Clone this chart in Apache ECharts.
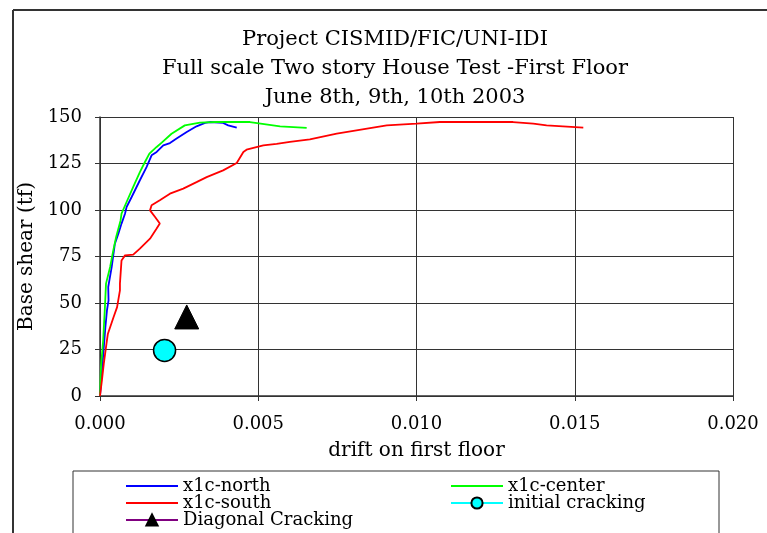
<!DOCTYPE html>
<html>
<head>
<meta charset="utf-8">
<script src="https://cdn.jsdelivr.net/npm/echarts@6/dist/echarts.min.js"></script>
<style>
  html, body { margin: 0; padding: 0; background: #fff; }
  #main { width: 767px; height: 533px; }
</style>
</head>
<body>
<div id="main"></div>
<script>
// base shear vs drift, first floor
var chart = echarts.init(document.getElementById('main'));

var titleLines = ['Project CISMID/FIC/UNI-IDI', 'Full scale Two story House Test -First Floor', 'June 8th, 9th, 10th 2003'];

// [drift, base shear]
var north = [[0, 0], [0.00017, 37], [0.00022, 46], [0.00027, 51.4], [0.00026, 58.6], [0.00037, 69.4],
  [0.00047, 81.9], [0.00058, 87.3], [0.00068, 92.7], [0.00079, 98], [0.00084, 101.6], [0.0010, 107],
  [0.00126, 116], [0.00147, 123.1], [0.00163, 129.4], [0.00179, 131.2], [0.0020, 134.8], [0.00221, 136],
  [0.00242, 138.4], [0.00274, 141.9], [0.00305, 145], [0.00332, 146.8], [0.00347, 147.3], [0.00389, 146.8],
  [0.00405, 145.5], [0.00432, 144.3]];

var center = [[0, 0], [0.00003, 15.6], [0.0001, 30], [0.00015, 46], [0.00019, 60.4], [0.00032, 69.4],
  [0.00042, 78.3], [0.00051, 85.5], [0.00065, 94.4], [0.00068, 98], [0.00084, 104.3], [0.00105, 112.4],
  [0.00126, 120.4], [0.00142, 125.8], [0.00156, 130.3], [0.00179, 133.9], [0.00195, 136.2], [0.00226, 141],
  [0.00268, 145.5], [0.00316, 147], [0.00368, 147.3], [0.00474, 147.3], [0.00569, 145], [0.00653, 144.1]];

var south = [[0, 0], [0.00006, 8.4], [0.00012, 17.4], [0.00022, 30], [0.00025, 33.5], [0.00043, 42.5],
  [0.00054, 47.8], [0.00063, 56.8], [0.00063, 60.4], [0.00068, 72.9], [0.00079, 75.6], [0.00105, 76],
  [0.00126, 79.2], [0.00158, 84.6], [0.00179, 90], [0.00189, 92.7], [0.00174, 96.2], [0.00158, 99.8],
  [0.00163, 102.5], [0.00189, 105.2], [0.00221, 108.8], [0.00263, 111.5], [0.00305, 115], [0.00337, 117.7],
  [0.00389, 121.3], [0.00432, 125.3], [0.00453, 131.2], [0.00463, 132.4], [0.00516, 134.8], [0.00558, 135.6],
  [0.0060, 136.6], [0.00663, 138], [0.00748, 141.1], [0.00906, 145.5], [0.0100, 146.4], [0.01074, 147.3],
  [0.01305, 147.3], [0.01369, 146.4], [0.01411, 145.5], [0.01527, 144.3]];

var initialCracking = [[0.00204, 24.5]];
var diagonalCracking = [[0.00274, 42.5]];

var serif = 'DejaVu Serif';
var noMark = { opacity: 0 };
var legendText = { fontFamily: serif, fontSize: 18, color: '#000', lineHeight: 17 };

var option = {
  animation: false,
  backgroundColor: '#fff',
  title: {
    text: titleLines.join('\n'),
    left: 390,
    top: 20,
    textAlign: 'center',
    textStyle: { fontFamily: serif, fontSize: 21, fontWeight: 'normal', color: '#000', lineHeight: 29 }
  },
  grid: { left: 100, right: 34, top: 117, bottom: 137 },
  xAxis: {
    type: 'value', min: 0, max: 0.02, interval: 0.005,
    name: 'drift on first floor', nameLocation: 'middle', nameGap: 45,
    nameTextStyle: { fontFamily: serif, fontSize: 20, color: '#000' },
    axisLine: { lineStyle: { color: '#333', width: 1.5 } },
    axisTick: { length: 5, lineStyle: { color: '#333' } },
    axisLabel: { margin: 19, fontFamily: serif, fontSize: 18, color: '#000',
      formatter: function (v) { return v.toFixed(3); } },
    splitLine: { lineStyle: { color: '#333', width: 1 } }
  },
  yAxis: {
    type: 'value', min: 0, max: 150, interval: 25,
    name: 'Base shear (tf)', nameLocation: 'middle', nameGap: 57,
    nameTextStyle: { fontFamily: serif, fontSize: 20, color: '#000' },
    axisLine: { show: true, lineStyle: { color: '#333', width: 1.5 } },
    axisTick: { show: true, length: 5, lineStyle: { color: '#333' } },
    axisLabel: { margin: 18, fontFamily: serif, fontSize: 18, color: '#000' },
    splitLine: { lineStyle: { color: '#333', width: 1 } }
  },
  legend: [{
    orient: 'vertical', left: 125, top: 477, height: 90, padding: 0, itemGap: -1,
    itemWidth: 52, itemHeight: 14,
    textStyle: legendText,
    data: [
      { name: 'x1c-north', itemStyle: noMark },
      { name: 'x1c-south', itemStyle: noMark },
      'Diagonal Cracking'
    ]
  }, {
    orient: 'vertical', left: 450, top: 477, height: 90, padding: 0, itemGap: -1,
    itemWidth: 52, itemHeight: 14,
    textStyle: legendText,
    data: [
      { name: 'x1c-center', itemStyle: noMark },
      'initial cracking'
    ]
  }],
  graphic: [
    { type: 'line', shape: { x1: 13, y1: 10, x2: 13, y2: 533 }, style: { stroke: '#333', lineWidth: 2 } },
    { type: 'line', shape: { x1: 13, y1: 10, x2: 767, y2: 10 }, style: { stroke: '#333', lineWidth: 2 } },
    { type: 'rect', shape: { x: 73, y: 471, width: 646, height: 100 }, style: { fill: 'none', stroke: '#333', lineWidth: 1 }, z: -1 }
  ],
  series: [
    { name: 'x1c-north', type: 'line', data: north, showSymbol: false, symbol: 'none',
      lineStyle: { color: '#0000ff', width: 1.8 }, itemStyle: { color: '#0000ff' } },
    { name: 'x1c-center', type: 'line', data: center, showSymbol: false, symbol: 'none',
      lineStyle: { color: '#00ff00', width: 1.8 }, itemStyle: { color: '#00ff00' } },
    { name: 'x1c-south', type: 'line', data: south, showSymbol: false, symbol: 'none',
      lineStyle: { color: '#ff0000', width: 1.8 }, itemStyle: { color: '#ff0000' } },
    { name: 'initial cracking', type: 'line', data: initialCracking, symbol: 'circle', symbolSize: 22,
      lineStyle: { color: '#00ffff', width: 1.8 },
      itemStyle: { color: '#00ffff', borderColor: '#000', borderWidth: 1.5 } },
    { name: 'Diagonal Cracking', type: 'line', data: diagonalCracking, symbol: 'triangle', symbolSize: 24,
      lineStyle: { color: '#800080', width: 1.8 },
      itemStyle: { color: '#000', borderColor: '#000', borderWidth: 1 } }
  ]
};
chart.setOption(option);
</script>
</body>
</html>
